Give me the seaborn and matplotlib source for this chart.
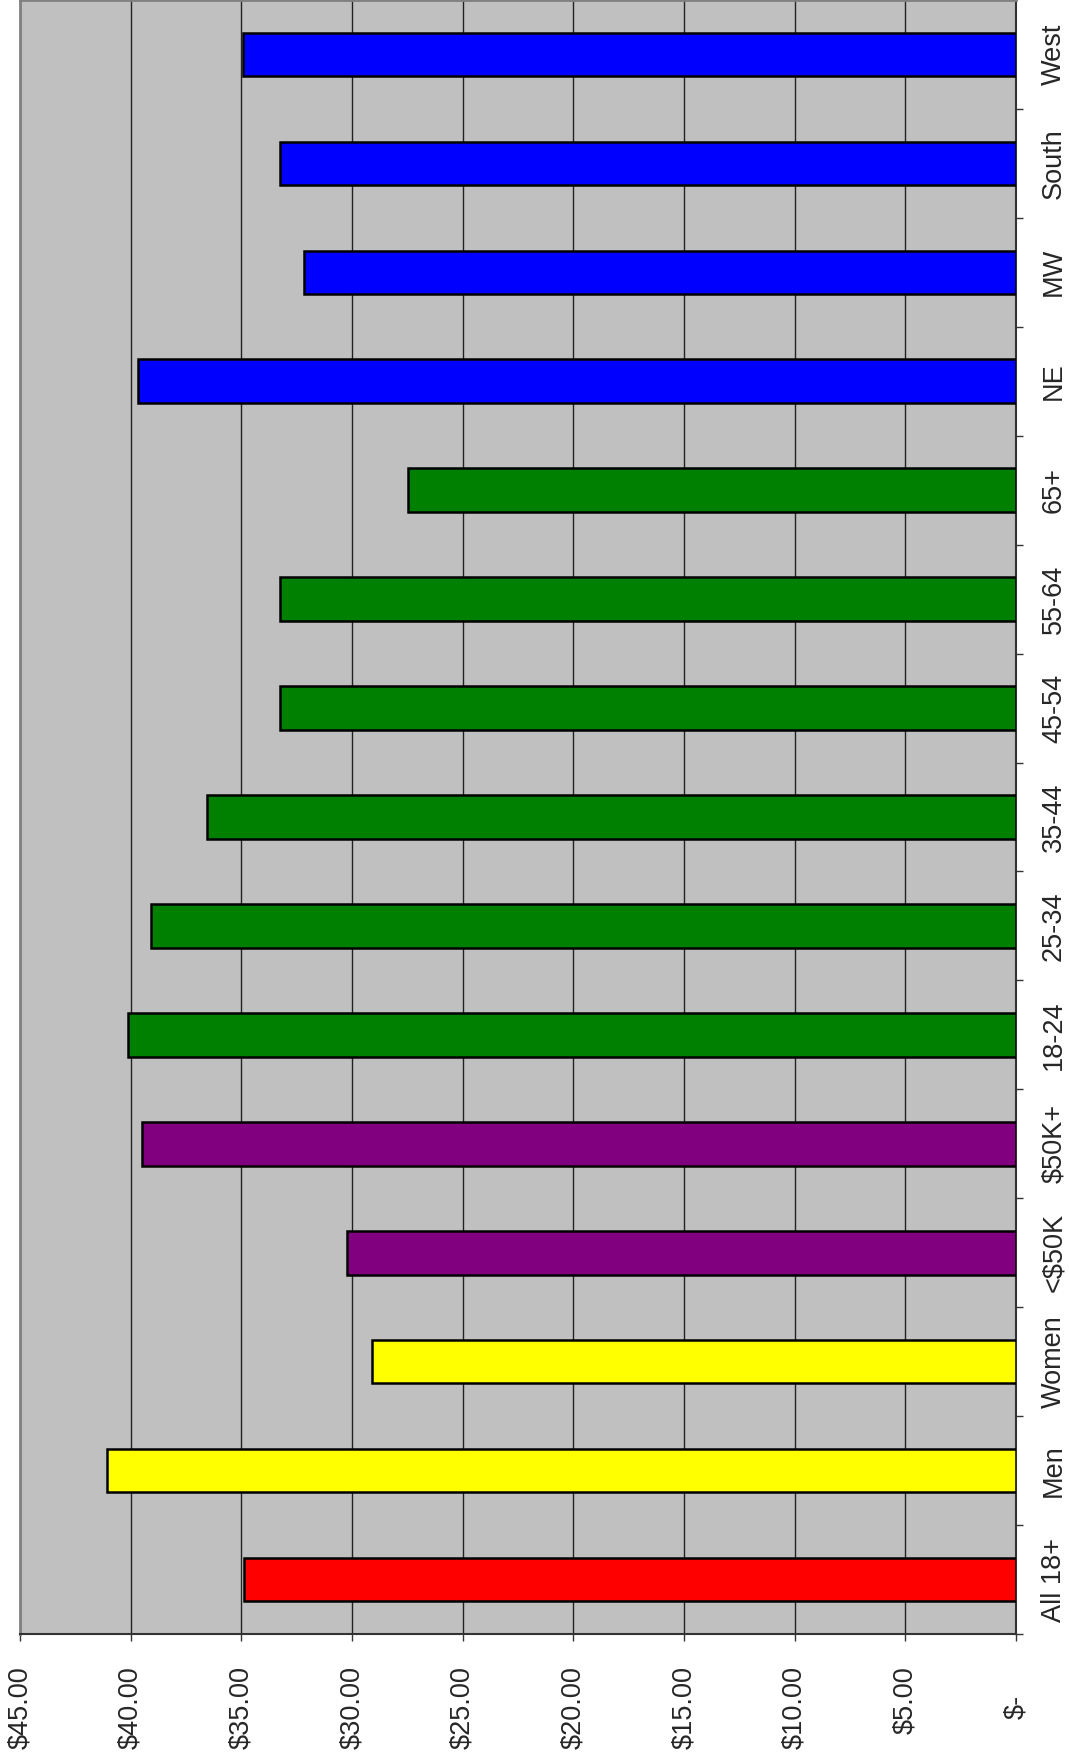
import matplotlib
matplotlib.use("Agg")
import matplotlib.pyplot as plt
import matplotlib.transforms as mtransforms
import seaborn as sns
import pandas as pd
import numpy as np

categories = ["All 18+", "Men", "Women", "<$50K", "$50K+", "18-24", "25-34",
              "35-44", "45-54", "55-64", "65+", "NE", "MW", "South", "West"]
values = [34.90, 41.06, 29.09, 30.24, 39.48, 40.14, 39.06,
          36.57, 33.26, 33.27, 27.49, 39.69, 32.16, 33.26, 34.92]
bar_colors = ["#FF0000", "#FFFF00", "#FFFF00", "#800080", "#800080",
              "#008000", "#008000", "#008000", "#008000", "#008000", "#008000",
              "#0000FF", "#0000FF", "#0000FF", "#0000FF"]
tick_values = [45, 40, 35, 30, 25, 20, 15, 10, 5, 0]
tick_labels = ["$45.00", "$40.00", "$35.00", "$30.00", "$25.00", "$20.00",
               "$15.00", "$10.00", "$5.00", "$-"]

sns.set_style("white")
plt.rcParams["font.family"] = ["Liberation Sans", "DejaVu Sans"]

df = pd.DataFrame({"category": categories, "value": values})
palette = dict(zip(categories, bar_colors))

fig = plt.figure(figsize=(10.69, 17.53), dpi=100)
ax = fig.add_axes([20 / 1069, (1753 - 1634) / 1753, (1016 - 20) / 1069, 1634 / 1753])
ax.set_facecolor("#C0C0C0")

sns.barplot(data=df, x="value", y="category", hue="category", palette=palette,
            order=categories[::-1], hue_order=categories, width=0.4,
            edgecolor="black", linewidth=1.8, legend=False, ax=ax, zorder=3,
            saturation=1)

ax.set_xlim(45, 0)
ax.set_ylim(14.5, -0.5)
ax.set_xlabel("")
ax.set_ylabel("")

# value axis (bottom)
ax.set_xticks(tick_values)
ax.set_xticklabels(tick_labels, rotation=90, va="top", ha="center")
ax.tick_params(axis="x", which="major", direction="out", length=5, width=1,
               color="#333333", pad=18, labelsize=19.5, bottom=True)
ax.grid(axis="x", color="#222222", linewidth=1, zorder=0)
ax.grid(axis="y", visible=False)
ax.set_axisbelow(True)

# category axis (right)
ax.yaxis.tick_right()
ax.tick_params(axis="y", which="major", length=0, pad=18, labelsize=19.5,
               labelrotation=90)
for lab in ax.get_yticklabels():
    lab.set_va("center")
    lab.set_ha("left")
ax.set_yticks(np.arange(len(categories)) + 0.5, minor=True)
ax.tick_params(axis="y", which="minor", direction="out", length=5, width=1,
               color="#333333", right=True, left=False)

# accounting-style padding for the zero label
for lab in ax.get_xticklabels():
    if lab.get_text() == "$-":
        lab.set_transform(lab.get_transform() +
                          mtransforms.ScaledTranslation(0, -0.29, fig.dpi_scale_trans))

for side in ["left", "top"]:
    ax.spines[side].set_color("#808080")
    ax.spines[side].set_linewidth(2)
for side in ["bottom", "right"]:
    ax.spines[side].set_color("#333333")
    ax.spines[side].set_linewidth(1.5)
for s in ax.spines.values():
    s.set_visible(True)

fig.savefig("out.png", dpi=100, facecolor="white")
